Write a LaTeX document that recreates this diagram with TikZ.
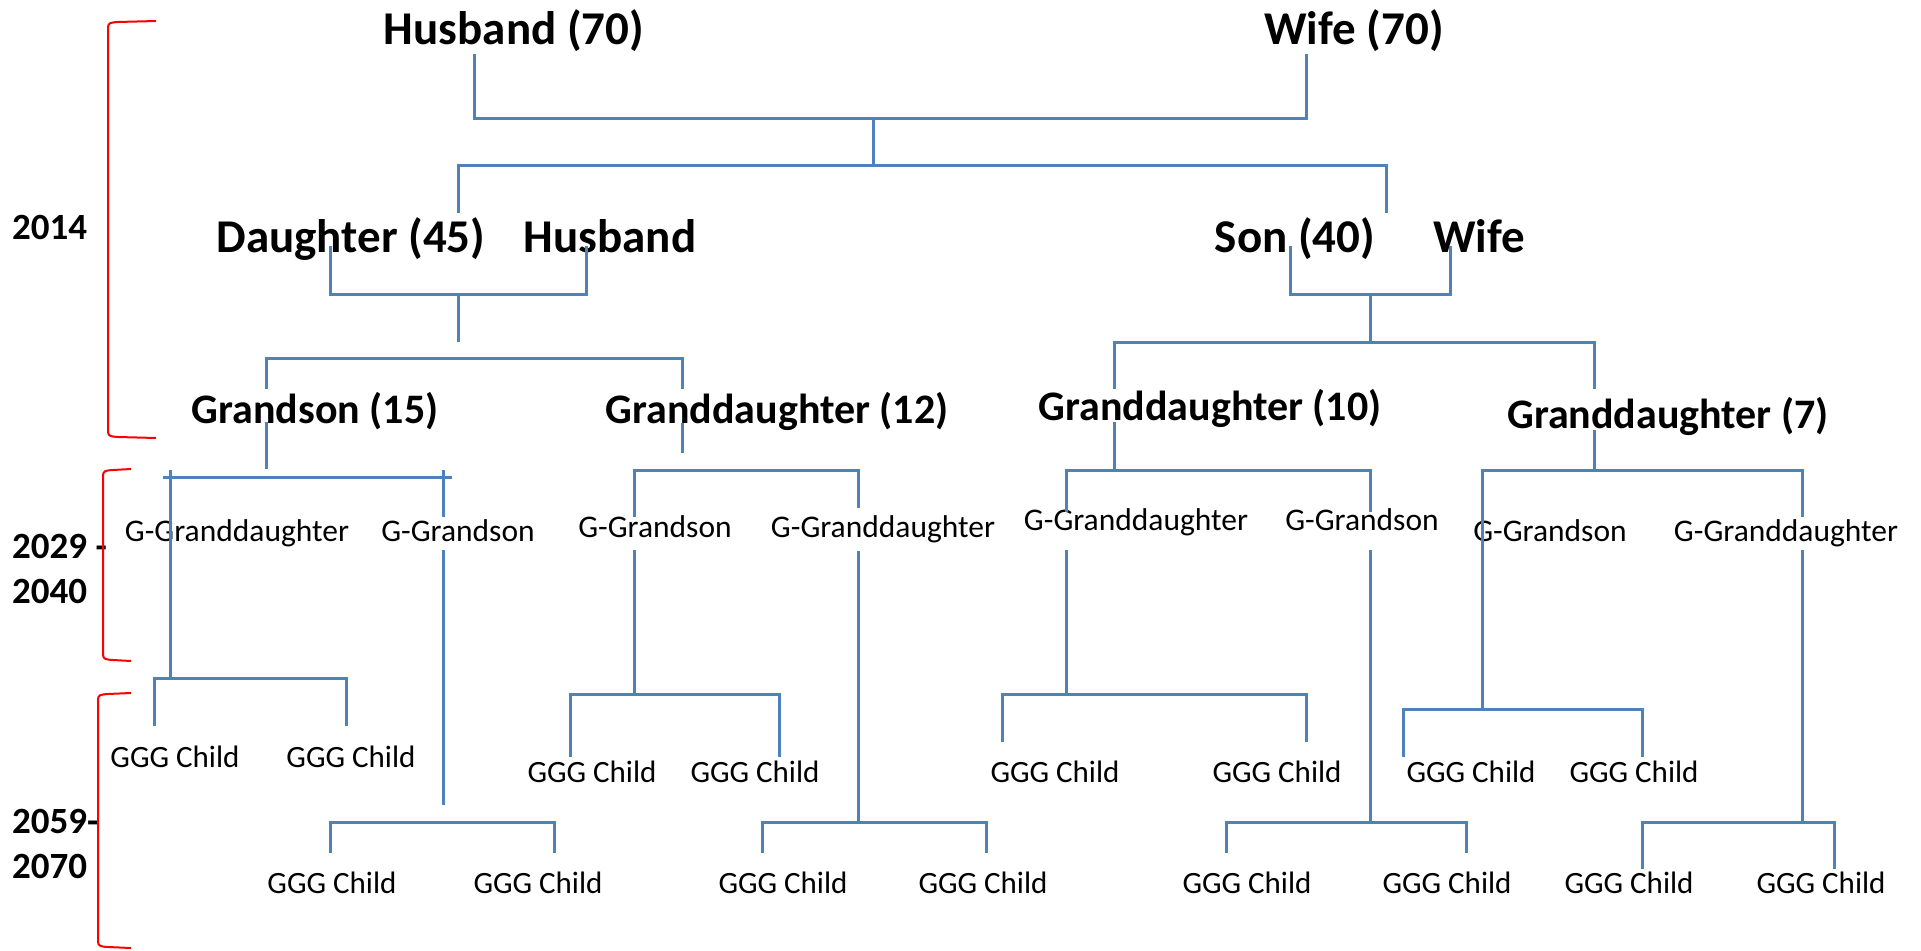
\documentclass[tikz,border=0pt]{standalone}
\usepackage{fontspec}
\setmainfont{Carlito}
\usetikzlibrary{calc}
\definecolor{lineblue}{RGB}{79,129,189}
\definecolor{brackred}{RGB}{255,0,0}
\begin{document}
\begin{tikzpicture}[x=1pt,y=-1pt,
    big/.style={font=\fontsize{47}{56}\selectfont\bfseries, anchor=base, inner sep=0pt},
    mid/.style={font=\fontsize{42}{50}\selectfont\bfseries, anchor=base, inner sep=0pt},
    ggen/.style={font=\fontsize{31.5}{38}\selectfont, anchor=base, inner sep=0pt},
    gggen/.style={font=\fontsize{31}{37}\selectfont, anchor=base, inner sep=0pt},
    year/.style={font=\fontsize{37}{44}\selectfont\bfseries, anchor=base west, inner sep=0pt},
    link/.style={draw=lineblue, line width=3},
    brack/.style={draw=brackred, line width=2}]

    \useasboundingbox (0,0) rectangle (1921,950);

    % Years at the left
    \node[year] (y1) at (12,239) {2014};
    \node[year] (y2) at (12,558) {2029 -};
    \node[year] (y3) at (12,603) {2040};
    \node[year] (y4) at (12,833) {2059-};
    \node[year] (y5) at (12,878) {2070};

    % Red brackets for the periods
    \draw[brack] (156,21) -- (118,22) .. controls (110,22.5) and (108,23) .. (108,28)
        -- (108,431) .. controls (108,436) and (110,436.5) .. (118,437) -- (156,438);
    \draw[brack] (131,469) -- (113,470) .. controls (105,470.5) and (103,471) .. (103,476)
        -- (103,654) .. controls (103,659) and (105,659.5) .. (113,660) -- (131,661);
    \draw[brack] (131,693) -- (108,694) .. controls (100,694.5) and (98,695) .. (98,700)
        -- (98,941) .. controls (98,946) and (100,946.5) .. (108,947) -- (131,948);

    % Grandparents and children
    \node[big] (hus) at (514,45) {Husband (70)};
    \node[big] (wif) at (1354,45) {Wife (70)};
    \node[big] (dau) at (351,252) {Daughter (45)};
    \node[big] (dhus) at (610,252) {Husband};
    \node[big] (son) at (1295,252) {Son (40)};
    \node[big] (swif) at (1479,252) {Wife};

    % Grandchildren
    \node[mid] (gs) at (315,423) {Grandson (15)};
    \node[mid] (gd12) at (777,423) {Granddaughter (12)};
    \node[mid] (gd10) at (1210,420) {Granddaughter (10)};
    \node[mid] (gd7) at (1668,428) {Granddaughter (7)};

    % Great grandchildren
    \node[ggen] (ggd1) at (237,541) {G-Granddaughter};
    \node[ggen] (ggs1) at (458,541) {G-Grandson};
    \node[ggen] (ggs2) at (655,537) {G-Grandson};
    \node[ggen] (ggd2) at (883,537) {G-Granddaughter};
    \node[ggen] (ggd3) at (1136,530) {G-Granddaughter};
    \node[ggen] (ggs3) at (1362,530) {G-Grandson};
    \node[ggen] (ggs4) at (1550,541) {G-Grandson};
    \node[ggen] (ggd4) at (1786,541) {G-Granddaughter};

    % GGG children
    \node[gggen] (c1a) at (175,767) {GGG Child};
    \node[gggen] (c1b) at (351,767) {GGG Child};
    \node[gggen] (c2a) at (332,893) {GGG Child};
    \node[gggen] (c2b) at (538,893) {GGG Child};
    \node[gggen] (c3a) at (592,782) {GGG Child};
    \node[gggen] (c3b) at (755,782) {GGG Child};
    \node[gggen] (c4a) at (783,893) {GGG Child};
    \node[gggen] (c4b) at (983,893) {GGG Child};
    \node[gggen] (c5a) at (1055,782) {GGG Child};
    \node[gggen] (c5b) at (1277,782) {GGG Child};
    \node[gggen] (c6a) at (1247,893) {GGG Child};
    \node[gggen] (c6b) at (1447,893) {GGG Child};
    \node[gggen] (c7a) at (1471,782) {GGG Child};
    \node[gggen] (c7b) at (1634,782) {GGG Child};
    \node[gggen] (c8a) at (1629,893) {GGG Child};
    \node[gggen] (c8b) at (1821,893) {GGG Child};

    % Junctions
    \coordinate (j0) at (873,118);
    \coordinate (j1) at (873,165);
    \coordinate (j2) at (458,294);
    \coordinate (j3) at (458,358);
    \coordinate (j4) at (1370,294);
    \coordinate (j5) at (1370,342);

    % Grandparents down to daughter and son
    \draw[link] ($(hus.base)+(-40,9)$) |- (j0) -| ($(wif.base)+(-48,9)$);
    \draw[link] (j0) -- (j1);
    \draw[link] ($(dau.base)+(107,-39)$) |- (j1) -| ($(son.base)+(91,-39)$);

    % Daughter and husband down to grandchildren
    \draw[link] ($(dau.base)+(-21,-6)$) |- (j2) -| ($(dhus.base)+(-24,-6)$);
    \draw[link] (j2) -- ++(0,48);
    \draw[link] ($(gs.base)+(-49,-34)$) |- (j3) -| ($(gd12.base)+(-95,-34)$);

    % Son and wife down to grandchildren
    \draw[link] ($(son.base)+(-5,-6)$) |- (j4) -| ($(swif.base)+(-29,-6)$);
    \draw[link] (j4) -- (j5);
    \draw[link] ($(gd10.base)+(-96,-31)$) |- (j5) -| ($(gd7.base)+(-74,-39)$);

    % Grandson (15)
    \draw[link] ($(gs.base)+(-49,-1)$) -- ++(0,47);
    \draw[link] ($(ggd1.base)+(-74,-64)$) -- ($(ggs1.base)+(-6,-64)$);
    \draw[link] ($(ggd1.base)+(-67,-71)$) -- ($(ggd1.base)+(-67,137)$) coordinate (k1);
    \draw[link] ($(c1a.base)+(-21,-41)$) |- (k1) -| ($(c1b.base)+(-5,-41)$);
    \draw[link] ($(ggs1.base)+(-15,-71)$) -- ($(ggs1.base)+(-15,-24)$);
    \draw[link] ($(ggs1.base)+(-15,9)$) -- ($(ggs1.base)+(-15,264)$);
    \coordinate (k2) at ($(ggs1.base)+(-15,281)$);
    \draw[link] ($(c2a.base)+(-2,-40)$) |- (k2) -| ($(c2b.base)+(16,-40)$);

    % Granddaughter (12)
    \draw[link] ($(gd12.base)+(-95,0)$) -- ++(0,30);
    \coordinate (k3) at ($(gd12.base)+(-95,47)$);
    \draw[link] ($(ggs2.base)+(-21,-20)$) |- (k3) -| ($(ggd2.base)+(-25,-29)$);
    \draw[link] ($(ggs2.base)+(-21,13)$) -- ($(ggs2.base)+(-21,157)$) coordinate (k4);
    \draw[link] ($(c3a.base)+(-22,-25)$) |- (k4) -| ($(c3b.base)+(24,-25)$);
    \draw[link] ($(ggd2.base)+(-25,14)$) -- ($(ggd2.base)+(-25,285)$) coordinate (k5);
    \draw[link] ($(c4a.base)+(-21,-40)$) |- (k5) -| ($(c4b.base)+(3,-40)$);

    % Granddaughter (10)
    \draw[link] ($(gd10.base)+(-96,2)$) -- ($(gd10.base)+(-96,50)$) coordinate (k6);
    \draw[link] ($(ggd3.base)+(-70,-18)$) |- (k6) -| ($(ggs3.base)+(8,-18)$);
    \draw[link] ($(ggd3.base)+(-70,20)$) -- ($(ggd3.base)+(-70,164)$) coordinate (k7);
    \draw[link] ($(c5a.base)+(-53,-40)$) |- (k7) -| ($(c5b.base)+(29,-40)$);
    \draw[link] ($(ggs3.base)+(8,20)$) -- ($(ggs3.base)+(8,292)$) coordinate (k8);
    \draw[link] ($(c6a.base)+(-21,-40)$) |- (k8) -| ($(c6b.base)+(19,-40)$);

    % Granddaughter (7)
    \draw[link] ($(gd7.base)+(-74,2)$) -- ($(gd7.base)+(-74,42)$) coordinate (k9);
    \draw[link] ($(ggs4.base)+(-68,168)$) coordinate (k10) |- (k9) -| ($(ggd4.base)+(16,-24)$);
    \draw[link] ($(c7a.base)+(-68,-25)$) |- (k10) -| ($(c7b.base)+(8,-25)$);
    \draw[link] ($(ggd4.base)+(16,9)$) -- ($(ggd4.base)+(16,281)$) coordinate (k11);
    \draw[link] ($(c8a.base)+(13,-24)$) |- (k11) -| ($(c8b.base)+(13,-24)$);

\end{tikzpicture}
\end{document}
